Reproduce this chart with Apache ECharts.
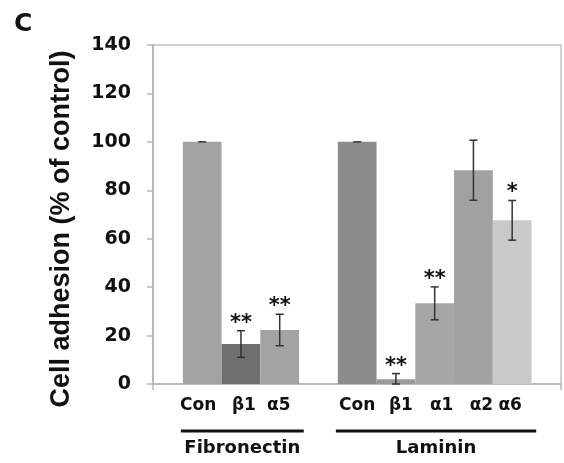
<!DOCTYPE html>
<html><head><meta charset="utf-8">
<script src="https://cdn.jsdelivr.net/npm/echarts@6/dist/echarts.min.js"></script>
<style>html,body{margin:0;padding:0;background:#fff}#c{width:564px;height:463px}</style>
</head><body><div id="c"></div>
<script>
// ---- data ----
const categories = ['Con', 'β1', 'α5', 'Con', 'β1', 'α1', 'α2', 'α6'];
const positions  = [0, 1, 2, 4, 5, 6, 7, 8];
const values     = [100, 16.5, 22.3, 100, 2.0, 33.3, 88.3, 67.6];
const errors     = [0, 5.5, 6.5, 0, 2.3, 6.8, 12.4, 8.2];
const stars      = ['', '**', '**', '', '**', '**', '', '*'];
const barColors  = ['#a3a3a3', '#6f6f6f', '#a3a3a3', '#8c8c8c', '#9a9a9a', '#a6a6a6', '#a1a1a1', '#c9c9c9'];
const groups      = ['Fibronectin', 'Laminin'];
const groupRanges = [[0, 2], [3, 7]];   // index ranges into categories
const yTicks = [0, 20, 40, 60, 80, 100, 120, 140];

const BOLD = 'DejaVu Sans';
const chart = echarts.init(document.getElementById('c'), null, {renderer: 'canvas'});

const barData = positions.map((p, i) => [p, values[i], errors[i], i]);
const groupData = groupRanges.map((r, g) => [positions[r[0]] - 0.55, positions[r[1]] + 0.62, g]);
// small label nudges (px) so glyphs sit like the original
const labelNudge = [-4, 3, -1, 0, 5, 7, 8, -2];

chart.setOption({
  animation: false,
  backgroundColor: '#fff',
  grid: {left: 153, right: 3, top: 45, bottom: 79, show: true, borderColor: '#c4c4c4', borderWidth: 1.5, backgroundColor: 'transparent'},
  xAxis: [{
    type: 'value', min: -1.27, max: 9.26,
    axisLine: {show: false}, axisTick: {show: false}, axisLabel: {show: false}, splitLine: {show: false}
  }, {
    type: 'category', data: [''], boundaryGap: true, position: 'bottom',
    axisLine: {show: true, onZero: false, lineStyle: {color: '#b8b8b8', width: 2}},
    axisTick: {show: true, length: 6, lineStyle: {color: '#b8b8b8', width: 1.5}},
    axisLabel: {show: false}, splitLine: {show: false}
  }],
  yAxis: {
    type: 'value', min: yTicks[0], max: yTicks[yTicks.length - 1], interval: 20,
    axisLine: {show: true, onZero: false, lineStyle: {color: '#b8b8b8', width: 2}},
    axisTick: {show: true, inside: false, length: 6, lineStyle: {color: '#b8b8b8', width: 1.5}},
    splitLine: {show: false},
    axisLabel: {color: '#111', fontFamily: BOLD, fontWeight: 'bold', fontSize: 19, margin: 22}
  },
  graphic: [
    {type: 'text', left: 14, top: 12, style: {text: 'C', fontFamily: BOLD, fontWeight: 'bold', fontSize: 25, fill: '#111'}},
    {type: 'text', x: 62, y: 229, rotation: Math.PI / 2,
     style: {text: 'Cell adhesion (% of control)', fontFamily: 'Liberation Sans', fontWeight: 'bold', fontSize: 27, fill: '#111', align: 'center', verticalAlign: 'middle'}}
  ],
  series: [{
    type: 'custom', clip: false, xAxisIndex: 0, yAxisIndex: 0,
    data: barData,
    renderItem: function (params, api) {
      const x = api.value(0), v = api.value(1), e = api.value(2), i = api.value(3);
      const w = api.size([1, 0])[0];
      const base = api.coord([x, 0]);
      const top = api.coord([x, v]);
      const eT = api.coord([x, v + e]);
      const eB = api.coord([x, Math.max(0, v - e)]);
      const cap = 4;
      const kids = [
        {type: 'rect', shape: {x: base[0] - w / 2, y: top[1], width: w, height: base[1] - top[1]}, style: {fill: barColors[i]}},
        {type: 'line', shape: {x1: eT[0], y1: eT[1], x2: eB[0], y2: eB[1]}, style: {stroke: '#333', lineWidth: 1.5}},
        {type: 'line', shape: {x1: eT[0] - cap, y1: eT[1], x2: eT[0] + cap, y2: eT[1]}, style: {stroke: '#333', lineWidth: 1.5}},
        {type: 'text', style: {text: categories[i], x: base[0] + labelNudge[i], y: base[1] + 22, align: 'center', verticalAlign: 'middle',
          fontFamily: BOLD, fontWeight: 'bold', fontSize: 17, fill: '#111'}}
      ];
      if (e > 0) kids.push({type: 'line', shape: {x1: eB[0] - cap, y1: eB[1], x2: eB[0] + cap, y2: eB[1]}, style: {stroke: '#333', lineWidth: 1.5}});
      if (stars[i]) kids.push({type: 'text', style: {text: stars[i], x: eT[0], y: eT[1] + 3, align: 'center', verticalAlign: 'bottom',
        fontFamily: BOLD, fontWeight: 'bold', fontSize: 21, fill: '#111'}});
      return {type: 'group', children: kids};
    }
  }, {
    type: 'custom', clip: false, xAxisIndex: 0, yAxisIndex: 0,
    data: groupData,
    renderItem: function (params, api) {
      const a = api.coord([api.value(0), 0]);
      const b = api.coord([api.value(1), 0]);
      const g = api.value(2);
      return {type: 'group', children: [
        {type: 'line', shape: {x1: a[0], y1: a[1] + 47, x2: b[0], y2: b[1] + 47}, style: {stroke: '#111', lineWidth: 3}},
        {type: 'text', style: {text: groups[g], x: (a[0] + b[0]) / 2, y: a[1] + 64, align: 'center', verticalAlign: 'middle',
          fontFamily: BOLD, fontWeight: 'bold', fontSize: 18, fill: '#111'}}
      ]};
    }
  }]
});
</script></body></html>
